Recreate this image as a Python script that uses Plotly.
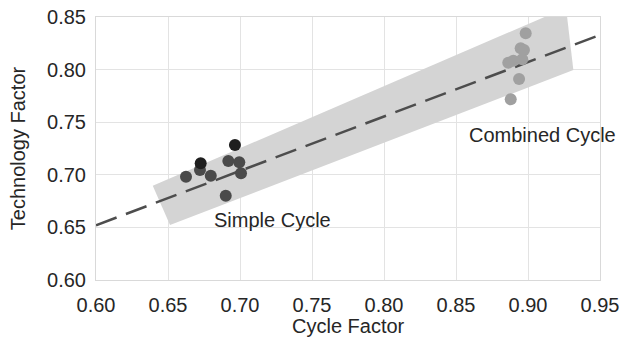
import plotly.graph_objects as go

# Simple cycle units (dark)
simple_x = [0.6919, 0.6995, 0.6722, 0.6625, 0.6797, 0.7007, 0.6901]
simple_y = [0.7131, 0.7119, 0.7046, 0.6982, 0.6991, 0.7014, 0.6801]
# Simple cycle units (black)
simple_blk_x = [0.6965, 0.6727]
simple_blk_y = [0.7283, 0.7109]
# Combined cycle units
comb_x = [0.8984, 0.8949, 0.8972, 0.8863, 0.8898, 0.8960, 0.8938, 0.8880]
comb_y = [0.8345, 0.8202, 0.8187, 0.8066, 0.8085, 0.8098, 0.7911, 0.7718]
# Fit line
fit_x = [0.60, 0.95]
fit_y = [0.652, 0.833]
# Confidence band polygon
band_x = [0.6394, 0.6514, 0.9315, 0.9264, 0.6394]
band_y = [0.6896, 0.6523, 0.7996, 0.8588, 0.6896]

FONT = "Liberation Sans, Arial, sans-serif"
FS = 20
fig = go.Figure()
fig.add_trace(go.Scatter(x=band_x, y=band_y, mode="lines", fill="toself",
                         fillcolor="#d4d4d4", line=dict(width=0), hoverinfo="skip"))
fig.add_trace(go.Scatter(x=fit_x, y=fit_y, mode="lines",
                         line=dict(color="#4d4d4d", width=2.5, dash="22px,10px")))
fig.add_trace(go.Scatter(x=comb_x, y=comb_y, mode="markers",
                         marker=dict(size=12, color="#a0a0a0", line=dict(width=0))))
fig.add_trace(go.Scatter(x=simple_x, y=simple_y, mode="markers",
                         marker=dict(size=12, color="#4a4a4a", line=dict(width=0))))
fig.add_trace(go.Scatter(x=simple_blk_x, y=simple_blk_y, mode="markers",
                         marker=dict(size=12, color="#1e1e1e", line=dict(width=0))))

fig.add_annotation(x=0.7228, y=0.657, text="Simple Cycle", showarrow=False,
                   font=dict(size=FS, color="#262626", family=FONT))
fig.add_annotation(x=0.910, y=0.7378, text="Combined Cycle", showarrow=False,
                   font=dict(size=FS, color="#262626", family=FONT))
fig.add_annotation(xref="paper", yref="paper", x=0.5, y=-0.175, yanchor="middle",
                   text="Cycle Factor", showarrow=False,
                   font=dict(size=FS, color="#262626", family=FONT))

axis_common = dict(showgrid=True, gridcolor="#e3e3e3", gridwidth=1, automargin=False,
                   showline=True, linecolor="#d9d9d9", linewidth=1, mirror=True,
                   zeroline=False, ticks="", tickfont=dict(size=FS, color="#262626", family=FONT),
                   title_font=dict(size=FS, color="#262626", family=FONT))
fig.update_xaxes(range=[0.60, 0.95], tickvals=[0.60, 0.65, 0.70, 0.75, 0.80, 0.85, 0.90, 0.95],
                 tickformat=".2f", ticklabelstandoff=7, **axis_common)
fig.update_yaxes(range=[0.60, 0.85], tickvals=[0.60, 0.65, 0.70, 0.75, 0.80, 0.85],
                 tickformat=".2f", title_text="Technology Factor", title_standoff=16,
                 ticklabelstandoff=5, **axis_common)
fig.update_layout(width=625, height=347, showlegend=False,
                  margin=dict(l=96, r=25, t=17, b=67),
                  plot_bgcolor="white", paper_bgcolor="white",
                  font=dict(family=FONT))
fig.write_html("out.html", config={"displayModeBar": False},
               post_script="document.body.style.margin='0';")
